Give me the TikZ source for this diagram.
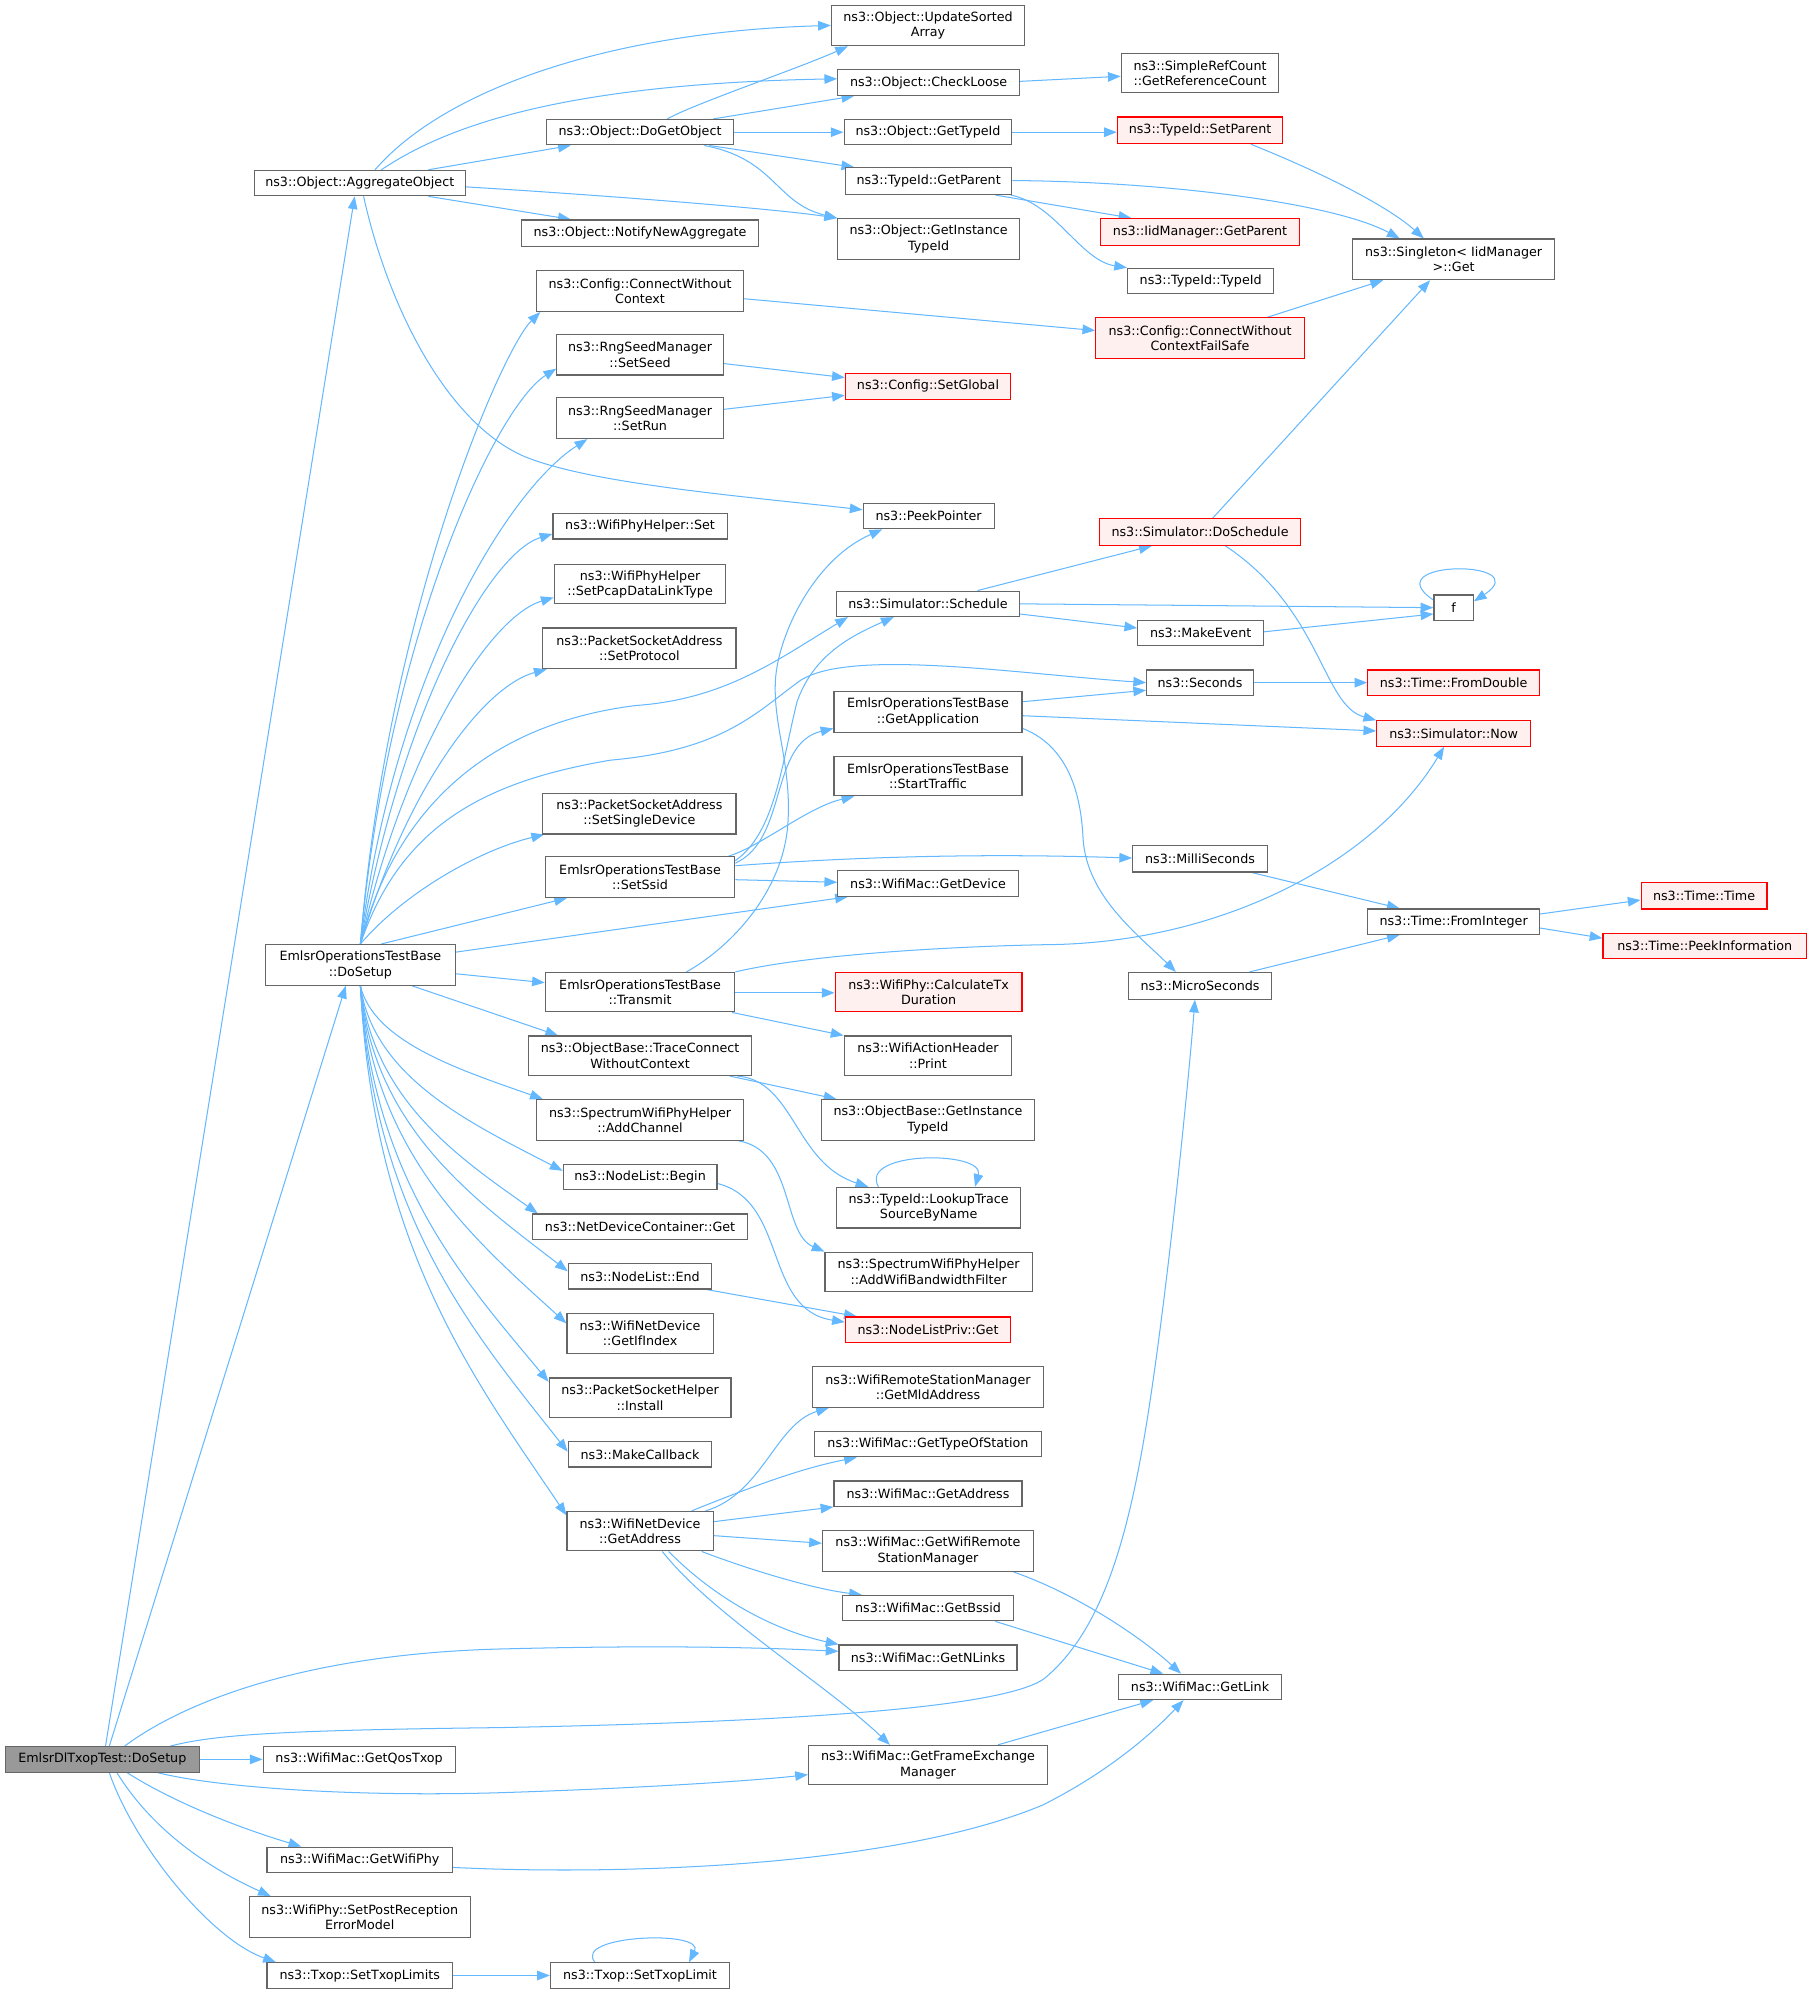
\documentclass[tikz,border=0pt]{standalone}
\usepackage{fontspec}
\setmainfont{DejaVu Sans}
\usetikzlibrary{arrows.meta,backgrounds}
\definecolor{edgeblue}{HTML}{63B8FF}
\definecolor{boxgray}{HTML}{666666}
\definecolor{redfill}{HTML}{FFF0F0}
\definecolor{rootfill}{HTML}{999999}
\newcommand{\mkbox}[7][nd]{\node[#1, minimum width={#5-#3}, minimum height={#6-#4}] (#2) at ({(#3+#5)/2},{(#4+#6)/2}) {#7};}
\tikzset{
  nd/.style={draw=boxgray, fill=white, line width=0.9pt, rectangle, inner sep=0pt, align=center, font=\fontsize{10}{12}\selectfont},
  rd/.style={nd, draw=red, fill=redfill},
  rt/.style={nd, fill=rootfill},
  edg/.style={draw=edgeblue, line width=0.8pt, -{Triangle[length=10pt,width=7.5pt]}}
}
\begin{document}
\begin{tikzpicture}[x=1pt,y=-1pt]
\useasboundingbox (0,0) rectangle (1425,1567);
\mkbox{upd}{654}{4}{806}{36}{ns3::Object::UpdateSorted\\Array}
\mkbox{chk}{659}{55}{802}{75}{ns3::Object::CheckLoose}
\mkbox{ref}{882}{42}{1006}{73}{ns3::SimpleRefCount\\::GetReferenceCount}
\mkbox{dgo}{430}{94}{577}{114}{ns3::Object::DoGetObject}
\mkbox{gti}{664}{94}{796}{114}{ns3::Object::GetTypeId}
\mkbox[rd]{spa}{879}{92}{1009}{113}{ns3::TypeId::SetParent}
\mkbox{gpa}{665}{132}{796}{153}{ns3::TypeId::GetParent}
\mkbox{agg}{200}{134}{366}{154}{ns3::Object::AggregateObject}
\mkbox[rd]{ipa}{866}{172}{1022}{193}{ns3::IidManager::GetParent}
\mkbox{sgl}{1064}{188}{1223}{220}{ns3::Singleton< IidManager\\>::Get}
\mkbox{nna}{410}{173}{597}{194}{ns3::Object::NotifyNewAggregate}
\mkbox{git}{659}{172}{802}{204}{ns3::Object::GetInstance\\TypeId}
\mkbox{tid}{887}{211}{1002}{231}{ns3::TypeId::TypeId}
\mkbox{cwc}{422}{213}{585}{245}{ns3::Config::ConnectWithout\\Context}
\mkbox[rd]{cfs}{862}{250}{1026}{282}{ns3::Config::ConnectWithout\\ContextFailSafe}
\mkbox{ssd}{438}{263}{569}{295}{ns3::RngSeedManager\\::SetSeed}
\mkbox[rd]{sgb}{665}{294}{795}{314}{ns3::Config::SetGlobal}
\mkbox{srn}{438}{313}{569}{345}{ns3::RngSeedManager\\::SetRun}
\mkbox{ppt}{679}{396}{782}{416}{ns3::PeekPointer}
\mkbox[rd]{dsc}{865}{408}{1023}{429}{ns3::Simulator::DoSchedule}
\mkbox{wps}{435}{404}{572}{424}{ns3::WifiPhyHelper::Set}
\mkbox{pcp}{436}{444}{571}{475}{ns3::WifiPhyHelper\\::SetPcapDataLinkType}
\mkbox{sch}{658}{465}{802}{485}{ns3::Simulator::Schedule}
\mkbox{ff}{1128}{468}{1159}{488}{f}
\mkbox{mke}{895}{488}{994}{508}{ns3::MakeEvent}
\mkbox{spr}{427}{494}{579}{526}{ns3::PacketSocketAddress\\::SetProtocol}
\mkbox{sec}{902}{527}{986}{547}{ns3::Seconds}
\mkbox[rd]{fdb}{1076}{527}{1211}{547}{ns3::Time::FromDouble}
\mkbox{gap}{656}{544}{804}{576}{EmlsrOperationsTestBase\\::GetApplication}
\mkbox[rd]{now}{1083}{567}{1204}{587}{ns3::Simulator::Now}
\mkbox{stt}{656}{595}{804}{626}{EmlsrOperationsTestBase\\::StartTraffic}
\mkbox{ssg}{427}{624}{579}{656}{ns3::PacketSocketAddress\\::SetSingleDevice}
\mkbox{ssi}{429}{674}{578}{706}{EmlsrOperationsTestBase\\::SetSsid}
\mkbox{mls}{891}{665}{997}{686}{ns3::MilliSeconds}
\mkbox{gdv}{659}{685}{801}{705}{ns3::WifiMac::GetDevice}
\mkbox[rd]{tim}{1291}{694}{1390}{715}{ns3::Time::Time}
\mkbox{fin}{1076}{715}{1211}{735}{ns3::Time::FromInteger}
\mkbox[rd]{pki}{1261}{734}{1421}{754}{ns3::Time::PeekInformation}
\mkbox{eds}{209}{743}{358}{775}{EmlsrOperationsTestBase\\::DoSetup}
\mkbox{trn}{429}{765}{578}{796}{EmlsrOperationsTestBase\\::Transmit}
\mkbox[rd]{ctd}{657}{765}{804}{796}{ns3::WifiPhy::CalculateTx\\Duration}
\mkbox{mcs}{888}{765}{1000}{786}{ns3::MicroSeconds}
\mkbox{wah}{664}{815}{796}{846}{ns3::WifiActionHeader\\::Print}
\mkbox{tcw}{416}{815}{591}{846}{ns3::ObjectBase::TraceConnect\\WithoutContext}
\mkbox{adc}{422}{865}{585}{897}{ns3::SpectrumWifiPhyHelper\\::AddChannel}
\mkbox{obg}{646}{865}{814}{897}{ns3::ObjectBase::GetInstance\\TypeId}
\mkbox{nlb}{443}{916}{564}{936}{ns3::NodeList::Begin}
\mkbox{ltr}{658}{934}{803}{966}{ns3::TypeId::LookupTrace\\SourceByName}
\mkbox{ndg}{419}{955}{588}{975}{ns3::NetDeviceContainer::Get}
\mkbox{awb}{649}{985}{812}{1016}{ns3::SpectrumWifiPhyHelper\\::AddWifiBandwidthFilter}
\mkbox{nle}{447}{994}{560}{1014}{ns3::NodeList::End}
\mkbox[rd]{npg}{665}{1036}{795}{1056}{ns3::NodeListPriv::Get}
\mkbox{gii}{446}{1033}{561}{1065}{ns3::WifiNetDevice\\::GetIfIndex}
\mkbox{psi}{432}{1084}{575}{1115}{ns3::PacketSocketHelper\\::Install}
\mkbox{gma}{639}{1075}{821}{1107}{ns3::WifiRemoteStationManager\\::GetMldAddress}
\mkbox{gts}{641}{1126}{819}{1146}{ns3::WifiMac::GetTypeOfStation}
\mkbox{mcb}{447}{1134}{560}{1154}{ns3::MakeCallback}
\mkbox{gad}{656}{1165}{804}{1185}{ns3::WifiMac::GetAddress}
\mkbox{nda}{446}{1189}{561}{1220}{ns3::WifiNetDevice\\::GetAddress}
\mkbox{grs}{647}{1204}{813}{1236}{ns3::WifiMac::GetWifiRemote\\StationManager}
\mkbox{gbs}{663}{1255}{797}{1275}{ns3::WifiMac::GetBssid}
\mkbox{gnl}{660}{1294}{800}{1314}{ns3::WifiMac::GetNLinks}
\mkbox{glk}{880}{1317}{1008}{1337}{ns3::WifiMac::GetLink}
\mkbox[rt]{root}{4}{1374}{157}{1394}{EmlsrDlTxopTest::DoSetup}
\mkbox{gqt}{207}{1374}{358}{1394}{ns3::WifiMac::GetQosTxop}
\mkbox{gfe}{636}{1373}{824}{1404}{ns3::WifiMac::GetFrameExchange\\Manager}
\mkbox{gwp}{210}{1453}{356}{1473}{ns3::WifiMac::GetWifiPhy}
\mkbox{spe}{196}{1492}{370}{1524}{ns3::WifiPhy::SetPostReception\\ErrorModel}
\mkbox{stl}{210}{1544}{356}{1564}{ns3::Txop::SetTxopLimits}
\mkbox{stx}{433}{1544}{574}{1564}{ns3::Txop::SetTxopLimit}
\begin{pgfonlayer}{background}
\fill[white] (0,0) rectangle (1425,1567);
% root
\draw[edg] (root.north -| 83,0) -- (agg.south -| 279,0);
\draw[edg] (root.north -| 86,0) -- (eds.south -| 272,0);
\draw[edg] (root.north -| 98,0) .. controls (150,1335) and (250,1300) .. (400,1297) .. controls (520,1294) and (600,1296) .. (gnl.west |- 0,1299);
\draw[edg] (root.north -| 134,0) .. controls (170,1364) and (230,1361) .. (393,1359) .. controls (600,1355) and (790,1345) .. (822,1320) .. controls (870,1280) and (890,1200) .. (905,1100) .. controls (920,1000) and (935,850) .. (mcs.south -| 940,0);
\draw[edg] (root.east) -- (gqt.west);
\draw[edg] (root.south -| 124,0) .. controls (170,1406) and (280,1414) .. (400,1410) .. controls (520,1406) and (600,1400) .. (gfe.west |- 0,1396);
\draw[edg] (root.south -| 100,0) .. controls (140,1420) and (195,1440) .. (gwp.north -| 237,0);
\draw[edg] (root.south -| 92,0) .. controls (120,1440) and (165,1470) .. (spe.north -| 213,0);
\draw[edg] (root.south -| 86,0) .. controls (105,1450) and (165,1525) .. (stl.north -| 217,0);
% AggregateObject
\draw[edg] (agg.north -| 295,0) .. controls (350,70) and (480,25) .. (upd.west |- 0,20);
\draw[edg] (agg.north -| 300,0) .. controls (350,100) and (440,66) .. (chk.west |- 0,62);
\draw[edg] (agg.north -| 337,0) -- (dgo.south -| 449,0);
\draw[edg] (agg.south -| 337,0) -- (nna.north -| 449,0);
\draw[edg] (agg.east |- 0,147) .. controls (450,152) and (600,163) .. (git.north west);
\draw[edg] (agg.south -| 286,0) .. controls (305,240) and (350,330) .. (410,358) .. controls (460,380) and (580,390) .. (ppt.west |- 0,401);
% DoGetObject
\draw[edg] (dgo.north -| 525,0) .. controls (545,82) and (625,55) .. (upd.south -| 667,0);
\draw[edg] (dgo.north -| 561,0) -- (chk.south -| 672,0);
\draw[edg] (dgo.east) -- (gti.west);
\draw[edg] (dgo.south -| 558,0) -- (gpa.north -| 672,0);
\draw[edg] (dgo.south -| 554,0) .. controls (610,125) and (610,160) .. (git.north west);
\draw[edg] (chk.east |- 0,64) -- (ref.west |- 0,60);
\draw[edg] (gti.east) -- (spa.west |- 0,104);
\draw[edg] (spa.south -| 984,0) .. controls (1050,140) and (1095,165) .. (sgl.north -| 1120,0);
\draw[edg] (gpa.east |- 0,142) .. controls (920,143) and (1050,160) .. (sgl.north -| 1101,0);
\draw[edg] (gpa.south -| 783,0) -- (ipa.north -| 890,0);
\draw[edg] (gpa.south -| 795,0) .. controls (830,160) and (850,205) .. (tid.north west);
\draw[edg] (cfs.north -| 997,0) -- (sgl.south -| 1088,0);
\draw[edg] (dsc.north -| 954,0) -- (sgl.south -| 1125,0);
\draw[edg] (cwc.east |- 0,235) -- (cfs.west |- 0,260);
\draw[edg] (ssd.east |- 0,286) -- (sgb.west |- 0,297);
\draw[edg] (srn.east |- 0,322) -- (sgb.west |- 0,311);
% Schedule and time
\draw[edg] (sch.north -| 769,0) -- (dsc.south -| 906,0);
\draw[edg] (sch.east |- 0,475) -- (ff.west |- 0,478);
\draw[edg] (sch.east |- 0,483) -- (mke.west |- 0,494);
\draw[edg] (mke.east |- 0,497) -- (ff.west |- 0,483);
\draw[edg] (ff.west |- 0,472) .. controls (1080,440) and (1210,440) .. (ff.east |- 0,473);
\draw[edg] (sec.east) -- (fdb.west);
\draw[edg] (gap.east |- 0,552) -- (sec.west |- 0,543);
\draw[edg] (gap.east |- 0,563) -- (now.west |- 0,575);
\draw[edg] (gap.east |- 0,573) .. controls (835,585) and (850,615) .. (852,660) .. controls (855,705) and (895,735) .. (mcs.north -| 925,0);
\draw[edg] (dsc.south -| 964,0) .. controls (1040,480) and (1040,555) .. (now.north west);
\draw[edg] (mls.south -| 985,0) -- (fin.north -| 1101,0);
\draw[edg] (mcs.north -| 983,0) -- (fin.south -| 1101,0);
\draw[edg] (fin.east |- 0,719) -- (tim.west |- 0,708);
\draw[edg] (fin.east |- 0,730) -- (pki.west |- 0,738);
% SetSsid
\draw[edg] (ssi.east |- 0,679) .. controls (620,660) and (605,585) .. (gap.west |- 0,573);
\draw[edg] (ssi.north -| 573,0) .. controls (600,665) and (635,635) .. (stt.south -| 672,0);
\draw[edg] (ssi.east |- 0,677) .. controls (610,655) and (615,600) .. (627,552) .. controls (640,515) and (670,500) .. (sch.south -| 703,0);
\draw[edg] (ssi.east |- 0,681) .. controls (700,672) and (800,672) .. (mls.west |- 0,675);
\draw[edg] (ssi.east |- 0,692) -- (gdv.west |- 0,694);
% Transmit
\draw[edg] (trn.north -| 540,0) .. controls (575,745) and (618,700) .. (620,644) .. controls (622,600) and (608,570) .. (610,535) .. controls (612,500) and (640,440) .. (ppt.south -| 694,0);
\draw[edg] (trn.north east) .. controls (640,750) and (760,744) .. (830,743) .. controls (960,740) and (1080,680) .. (now.south -| 1136,0);
\draw[edg] (trn.east |- 0,781) -- (ctd.west |- 0,781);
\draw[edg] (trn.south -| 576,0) -- (wah.north west);
\draw[edg] (tcw.south -| 574,0) -- (obg.north -| 658,0);
\draw[edg] (tcw.south -| 580,0) .. controls (625,850) and (625,915) .. (ltr.north -| 683,0);
\draw[edg] (ltr.north -| 691,0) .. controls (675,905) and (775,905) .. (ltr.north -| 767,0);
\draw[edg] (adc.south -| 581,0) .. controls (625,905) and (615,970) .. (awb.north west);
\draw[edg] (nlb.east |- 0,931) .. controls (620,945) and (600,1030) .. (npg.west |- 0,1040);
\draw[edg] (nle.south -| 556,0) -- (npg.north -| 674,0);
% WifiNetDevice::GetAddress
\draw[edg] (nda.north -| 555,0) .. controls (600,1175) and (610,1120) .. (gma.south -| 652,0);
\draw[edg] (nda.north -| 544,0) .. controls (590,1170) and (630,1155) .. (gts.south -| 674,0);
\draw[edg] (nda.east |- 0,1197) -- (gad.south west);
\draw[edg] (nda.east |- 0,1208) -- (grs.west |- 0,1214);
\draw[edg] (nda.south -| 552,0) .. controls (590,1235) and (640,1250) .. (gbs.north -| 678,0);
\draw[edg] (nda.south -| 526,0) .. controls (570,1265) and (620,1285) .. (gnl.north west);
\draw[edg] (nda.south -| 521,0) .. controls (560,1270) and (650,1325) .. (gfe.north -| 700,0);
\draw[edg] (grs.south -| 797,0) .. controls (850,1255) and (900,1290) .. (glk.north -| 929,0);
\draw[edg] (gbs.south -| 783,0) -- (glk.north -| 915,0);
\draw[edg] (gfe.north -| 785,0) -- (glk.south -| 907,0);
\draw[edg] (gwp.east |- 0,1469) .. controls (480,1475) and (700,1470) .. (820,1420) .. controls (870,1395) and (905,1365) .. (glk.south -| 931,0);
\draw[edg] (stl.east) -- (stx.west);
\draw[edg] (stx.north -| 468,0) .. controls (450,1522) and (555,1518) .. (stx.north -| 542,0);
% DoSetup fan (upper)
\draw[edg] (eds.north) .. controls (305,480) and (395,275) .. (cwc.south -| 425,0);
\draw[edg] (eds.north) .. controls (305,500) and (390,320) .. (ssd.west |- 0,290);
\draw[edg] (eds.north) .. controls (310,530) and (400,385) .. (srn.south -| 462,0);
\draw[edg] (eds.north) .. controls (315,560) and (385,435) .. (wps.west |- 0,420);
\draw[edg] (eds.north) .. controls (318,590) and (385,485) .. (pcp.west |- 0,470);
\draw[edg] (eds.north) .. controls (320,620) and (380,540) .. (spr.south -| 430,0);
\draw[edg] (eds.north) .. controls (310,640) and (380,570) .. (500,555) .. controls (570,550) and (610,520) .. (sch.south -| 667,0);
\draw[edg] (eds.north) .. controls (315,650) and (380,615) .. (480,598) .. controls (570,590) and (595,560) .. (630,535) .. controls (670,510) and (800,530) .. (sec.west |- 0,537);
\draw[edg] (eds.north) .. controls (320,700) and (380,668) .. (ssg.south -| 428,0);
\draw[edg] (eds.north -| 300,0) -- (ssi.south -| 446,0);
\draw[edg] (eds.east |- 0,749) -- (gdv.south -| 667,0);
\draw[edg] (eds.east |- 0,766) -- (trn.west |- 0,773);
\draw[edg] (eds.south -| 324,0) -- (tcw.north -| 439,0);
% DoSetup fan (lower)
\draw[edg] (eds.south) .. controls (294,820) and (363,842) .. (adc.north -| 427,0);
\draw[edg] (eds.south) .. controls (294,848) and (371,884) .. (nlb.west |- 0,921);
\draw[edg] (eds.south) .. controls (294,865) and (360,910) .. (ndg.north -| 423,0);
\draw[edg] (eds.south) .. controls (294,888) and (374,944) .. (nle.west |- 0,1000);
\draw[edg] (eds.south) .. controls (294,908) and (373,975) .. (gii.west |- 0,1041);
\draw[edg] (eds.south) .. controls (294,930) and (366,1008) .. (psi.west |- 0,1087);
\draw[edg] (eds.south) .. controls (294,958) and (374,1050) .. (mcb.west |- 0,1142);
\draw[edg] (eds.south) .. controls (294,982) and (374,1086) .. (nda.west |- 0,1192);
\end{pgfonlayer}
\end{tikzpicture}
\end{document}
